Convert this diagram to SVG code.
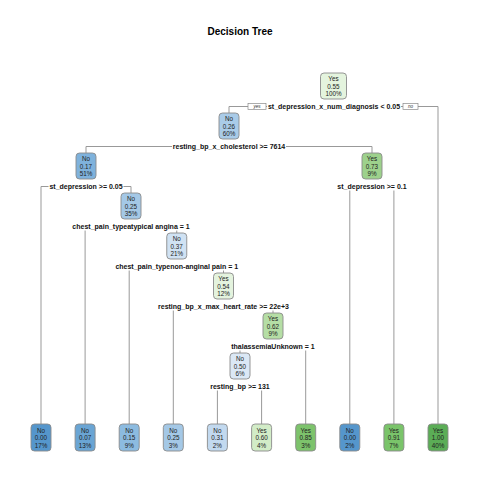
<svg xmlns="http://www.w3.org/2000/svg" width="480" height="480" viewBox="0 0 480 480">
<style>
.bg{fill:#ffffff}
.title{font-family:"Liberation Sans",Arial,sans-serif;font-size:10px;font-weight:bold;fill:#000;text-anchor:middle}
.box{stroke:#8a8a8a;stroke-width:0.9}
.nt{font-family:"Liberation Sans",Arial,sans-serif;font-size:6.3px;fill:#222;text-anchor:middle}
.conn path{fill:none;stroke:#999;stroke-width:1}
.lbg{fill:#ffffff}
.lbl{font-family:"Liberation Sans",Arial,sans-serif;font-size:7px;font-weight:bold;fill:#111;text-anchor:middle}
.yn{fill:#fff;stroke:#8a8a8a;stroke-width:0.7}
.ynt{font-family:"Liberation Sans",Arial,sans-serif;font-size:4.6px;font-style:italic;fill:#333;text-anchor:middle}
</style>
<rect class="bg" x="0" y="0" width="480" height="480"/>
<text class="title" x="240" y="34.5">Decision Tree</text>

<g id="connectors" class="conn">
<path d="M229,113 V106.5 H438 V424"/>
<path d="M86,153 V146.5 H372 V153"/>
<path d="M41,424 V186.5 H131 V193"/>
<path d="M349.8,424 V186.5 H393.9 V424"/>
<path d="M85.1,424 V226.5 H176.75 V233"/>
<path d="M129.2,424 V266.5 H223.5 V273"/>
<path d="M173.3,424 V306.5 H273 V313"/>
<path d="M240,353 V346.5 H305.7 V424"/>
<path d="M217.4,424 V386.5 H261.6 V424"/>
</g>

<g id="labels">
<rect class="lbg" x="267" y="102.5" width="134" height="8"/>
<text class="lbl" x="334" y="109">st_depression_x_num_diagnosis &lt; 0.05</text>
<rect class="yn" x="248" y="103.5" width="18" height="6"/>
<text class="ynt" x="257" y="108">yes</text>
<rect class="yn" x="403" y="103.5" width="15" height="6"/>
<text class="ynt" x="410.5" y="108">no</text>

<rect class="lbg" x="172" y="142.5" width="114" height="8"/>
<text class="lbl" x="229" y="149">resting_bp_x_cholesterol &gt;= 7614</text>

<rect class="lbg" x="48.5" y="182.5" width="75" height="8"/>
<text class="lbl" x="86" y="189">st_depression &gt;= 0.05</text>

<rect class="lbg" x="336.5" y="182.5" width="71" height="8"/>
<text class="lbl" x="372" y="189">st_depression &gt;= 0.1</text>

<rect class="lbg" x="71.5" y="222.5" width="119" height="8"/>
<text class="lbl" x="131" y="229">chest_pain_typeatypical angina = 1</text>

<rect class="lbg" x="114.5" y="262.5" width="124.5" height="8"/>
<text class="lbl" x="176.75" y="269">chest_pain_typenon-anginal pain = 1</text>

<rect class="lbg" x="157" y="302.5" width="133" height="8"/>
<text class="lbl" x="223.5" y="309">resting_bp_x_max_heart_rate &gt;= 22e+3</text>

<rect class="lbg" x="230.5" y="342.5" width="85" height="8"/>
<text class="lbl" x="273" y="349">thalassemiaUnknown = 1</text>

<rect class="lbg" x="209" y="382.5" width="62" height="8"/>
<text class="lbl" x="240" y="389">resting_bp &gt;= 131</text>
</g>

<g id="node_root"><rect class="box" x="320.5" y="73" width="26" height="26" rx="3.5" fill="#e4f4de"/>
<text class="nt" x="333.5" y="81.3">Yes</text><text class="nt" x="333.5" y="88.8">0.55</text><text class="nt" x="333.5" y="96.2">100%</text></g>

<g id="node_026"><rect class="box" x="219" y="113" width="20" height="26" rx="3.5" fill="#a9cbe8"/>
<text class="nt" x="229" y="121.3">No</text><text class="nt" x="229" y="128.8">0.26</text><text class="nt" x="229" y="136.2">60%</text></g>

<g id="node_017"><rect class="box" x="76" y="153" width="20" height="26" rx="3.5" fill="#7fb2dc"/>
<text class="nt" x="86" y="161.3">No</text><text class="nt" x="86" y="168.8">0.17</text><text class="nt" x="86" y="176.2">51%</text></g>

<g id="node_073"><rect class="box" x="362" y="153" width="20" height="26" rx="3.5" fill="#9dd18c"/>
<text class="nt" x="372" y="161.3">Yes</text><text class="nt" x="372" y="168.8">0.73</text><text class="nt" x="372" y="176.2">9%</text></g>

<g id="node_025"><rect class="box" x="121" y="193" width="20" height="26" rx="3.5" fill="#a4c8e6"/>
<text class="nt" x="131" y="201.3">No</text><text class="nt" x="131" y="208.8">0.25</text><text class="nt" x="131" y="216.2">35%</text></g>

<g id="node_037"><rect class="box" x="166.75" y="233" width="20" height="26" rx="3.5" fill="#d0e2f3"/>
<text class="nt" x="176.75" y="241.3">No</text><text class="nt" x="176.75" y="248.8">0.37</text><text class="nt" x="176.75" y="256.2">21%</text></g>

<g id="node_054"><rect class="box" x="213.5" y="273" width="20" height="26" rx="3.5" fill="#e4f3de"/>
<text class="nt" x="223.5" y="281.3">Yes</text><text class="nt" x="223.5" y="288.8">0.54</text><text class="nt" x="223.5" y="296.2">12%</text></g>

<g id="node_062"><rect class="box" x="263" y="313" width="20" height="26" rx="3.5" fill="#b5dea5"/>
<text class="nt" x="273" y="321.3">Yes</text><text class="nt" x="273" y="328.8">0.62</text><text class="nt" x="273" y="336.2">9%</text></g>

<g id="node_050"><rect class="box" x="230" y="353" width="20" height="26" rx="3.5" fill="#dbe8f5"/>
<text class="nt" x="240" y="361.3">No</text><text class="nt" x="240" y="368.8">0.50</text><text class="nt" x="240" y="376.2">6%</text></g>

<g id="leaf_1"><rect class="box" x="31" y="424" width="20" height="27" rx="3.5" fill="#5596cc"/>
<text class="nt" x="41" y="432.5">No</text><text class="nt" x="41" y="440.2">0.00</text><text class="nt" x="41" y="447.8">17%</text></g>

<g id="leaf_2"><rect class="box" x="75.1" y="424" width="20" height="27" rx="3.5" fill="#6aa5d4"/>
<text class="nt" x="85.1" y="432.5">No</text><text class="nt" x="85.1" y="440.2">0.07</text><text class="nt" x="85.1" y="447.8">13%</text></g>

<g id="leaf_3"><rect class="box" x="119.2" y="424" width="20" height="27" rx="3.5" fill="#8cbbe0"/>
<text class="nt" x="129.2" y="432.5">No</text><text class="nt" x="129.2" y="440.2">0.15</text><text class="nt" x="129.2" y="447.8">9%</text></g>

<g id="leaf_4"><rect class="box" x="163.3" y="424" width="20" height="27" rx="3.5" fill="#a4c8e6"/>
<text class="nt" x="173.3" y="432.5">No</text><text class="nt" x="173.3" y="440.2">0.25</text><text class="nt" x="173.3" y="447.8">3%</text></g>

<g id="leaf_5"><rect class="box" x="207.4" y="424" width="20" height="27" rx="3.5" fill="#c2d9ef"/>
<text class="nt" x="217.4" y="432.5">No</text><text class="nt" x="217.4" y="440.2">0.31</text><text class="nt" x="217.4" y="447.8">2%</text></g>

<g id="leaf_6"><rect class="box" x="251.6" y="424" width="20" height="27" rx="3.5" fill="#d2ecc7"/>
<text class="nt" x="261.6" y="432.5">Yes</text><text class="nt" x="261.6" y="440.2">0.60</text><text class="nt" x="261.6" y="447.8">4%</text></g>

<g id="leaf_7"><rect class="box" x="295.7" y="424" width="20" height="27" rx="3.5" fill="#7dc36c"/>
<text class="nt" x="305.7" y="432.5">Yes</text><text class="nt" x="305.7" y="440.2">0.85</text><text class="nt" x="305.7" y="447.8">3%</text></g>

<g id="leaf_8"><rect class="box" x="339.8" y="424" width="20" height="27" rx="3.5" fill="#5596cc"/>
<text class="nt" x="349.8" y="432.5">No</text><text class="nt" x="349.8" y="440.2">0.00</text><text class="nt" x="349.8" y="447.8">2%</text></g>

<g id="leaf_9"><rect class="box" x="383.9" y="424" width="20" height="27" rx="3.5" fill="#7ac46a"/>
<text class="nt" x="393.9" y="432.5">Yes</text><text class="nt" x="393.9" y="440.2">0.91</text><text class="nt" x="393.9" y="447.8">7%</text></g>

<g id="leaf_10"><rect class="box" x="428" y="424" width="20" height="27" rx="3.5" fill="#5bad56"/>
<text class="nt" x="438" y="432.5">Yes</text><text class="nt" x="438" y="440.2">1.00</text><text class="nt" x="438" y="447.8">40%</text></g>
</svg>
